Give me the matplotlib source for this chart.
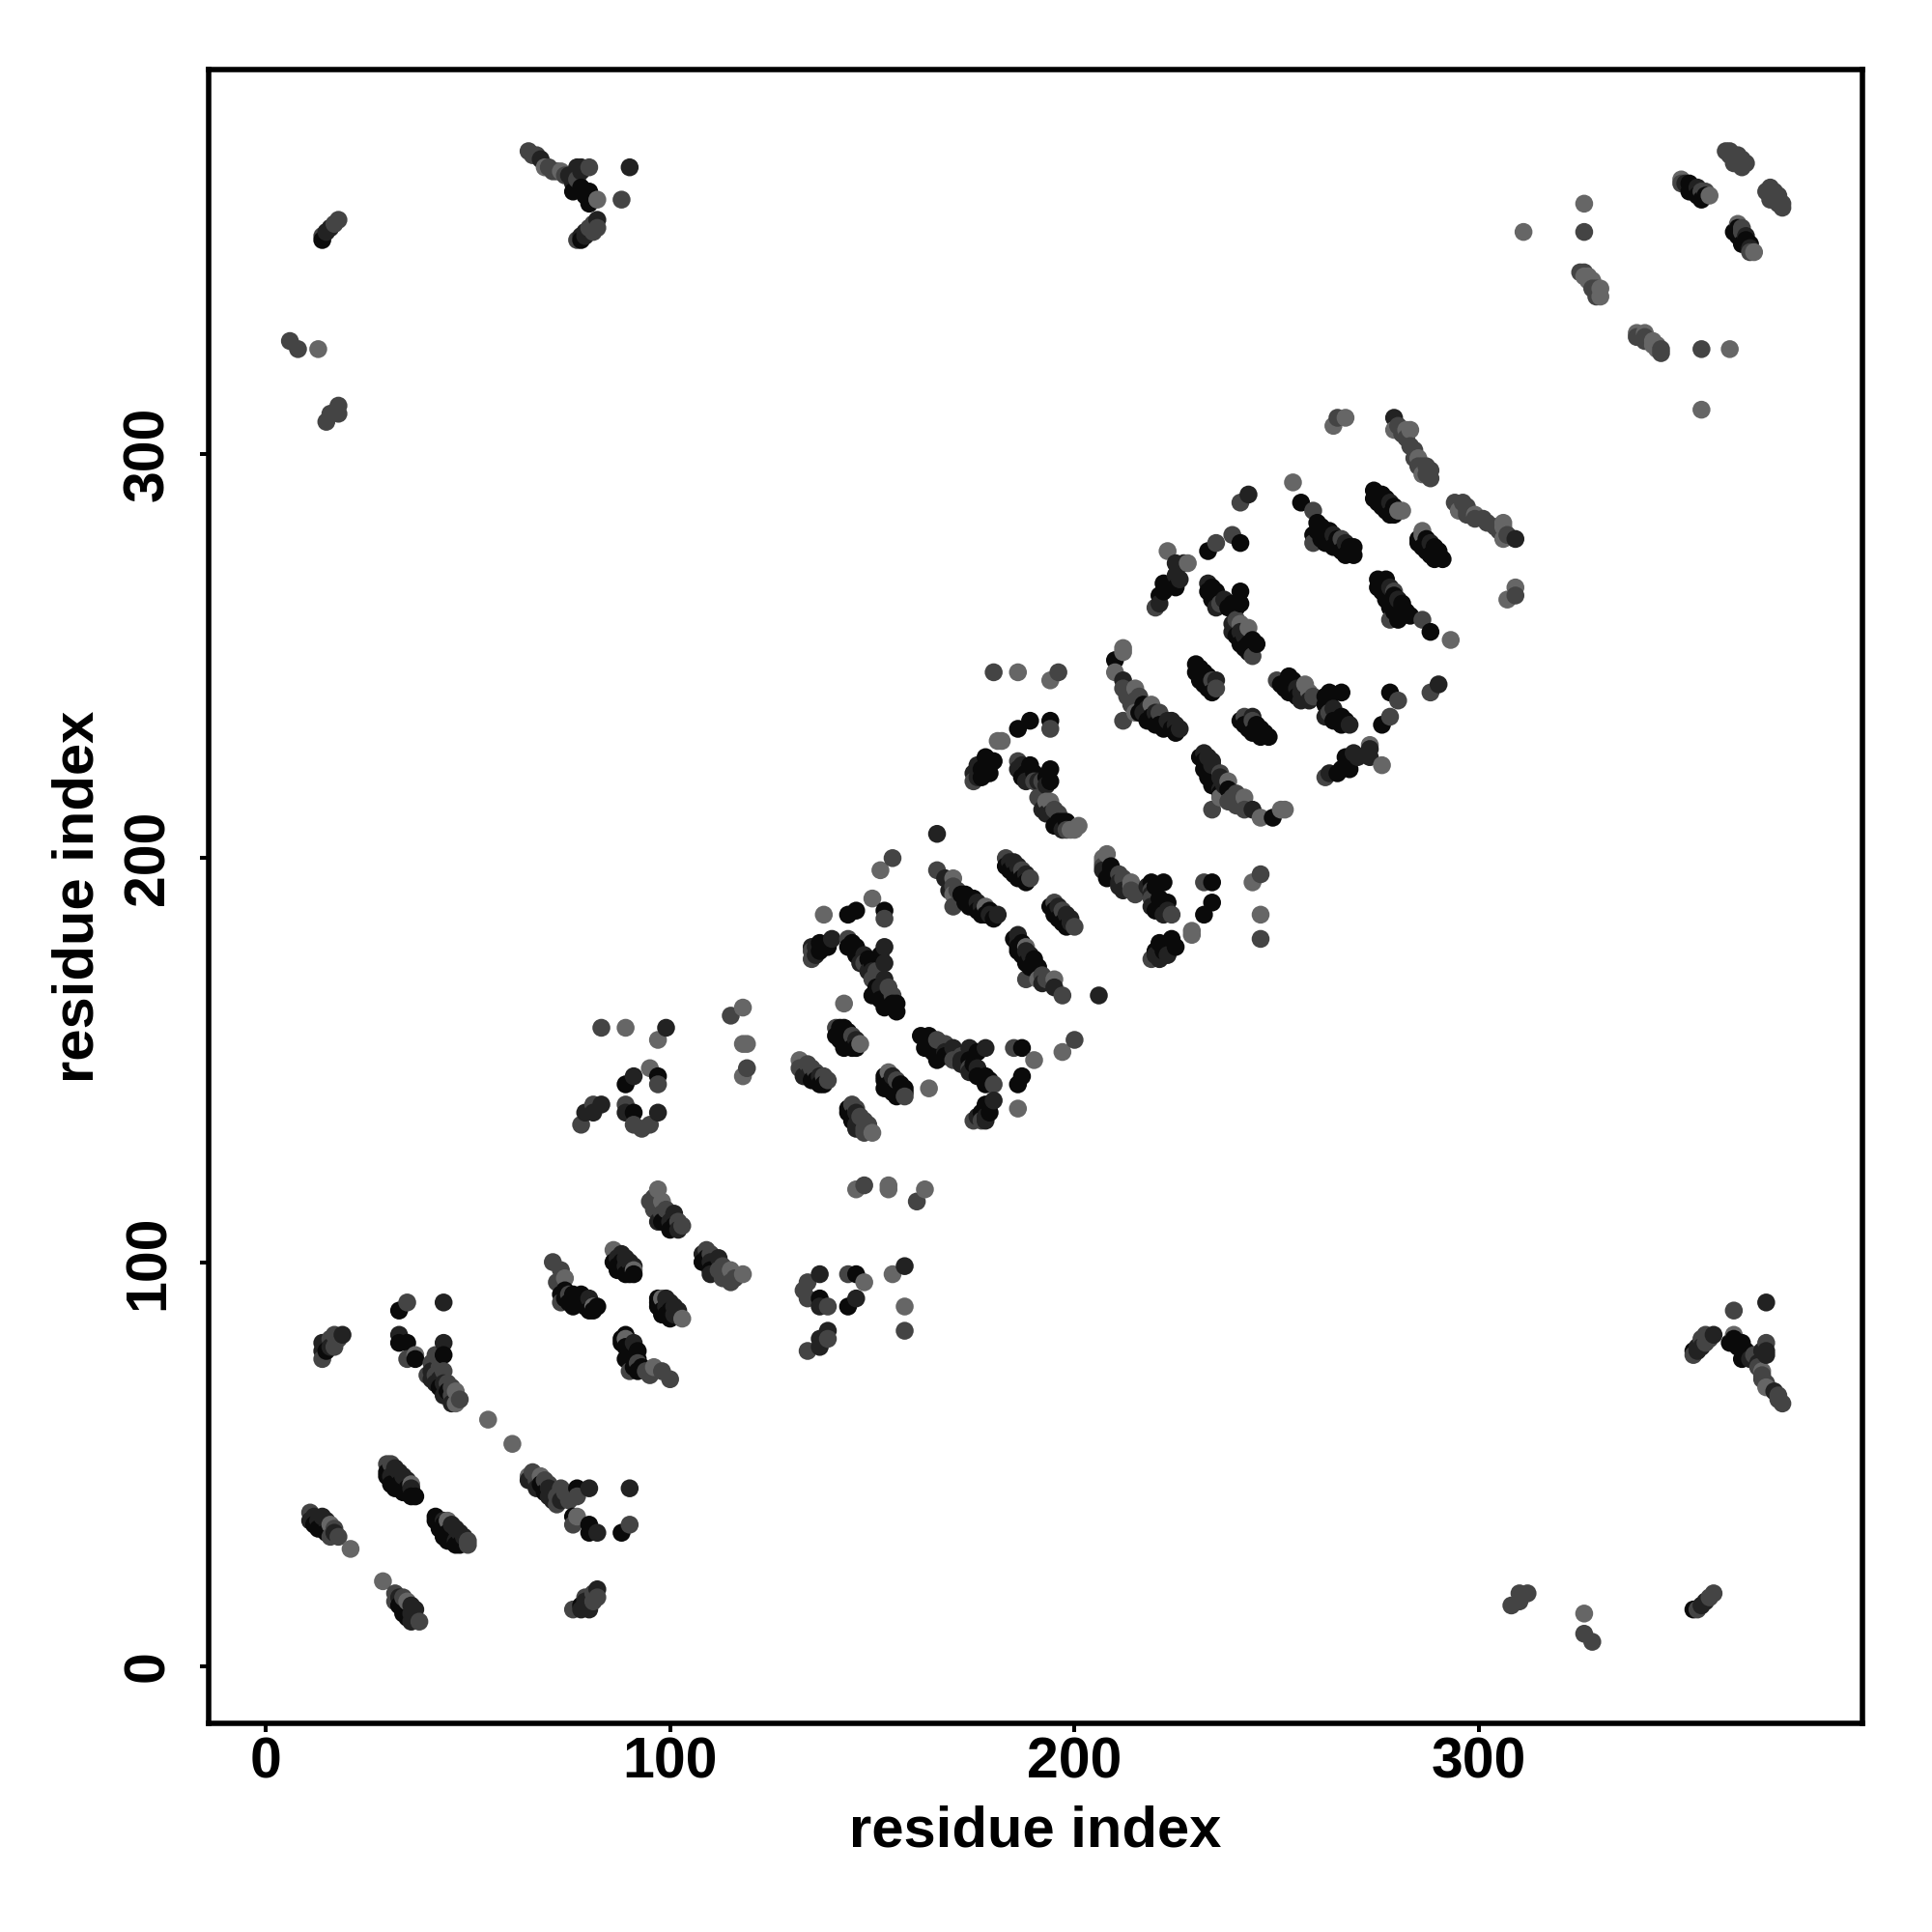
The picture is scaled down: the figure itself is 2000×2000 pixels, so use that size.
import numpy as np
import matplotlib
matplotlib.use("Agg")
import matplotlib.pyplot as plt

plt.rcParams['font.family'] = ['Liberation Sans', 'DejaVu Sans']

########################################################
# Contacts: (residue i, residue j, level)
# level: 0 weakest (light grey) ... 3 strongest (near black)
########################################################

far_n_a = [(14, 354, 1), (14, 353, 3), (15, 355, 2), (16, 356, 2), (17, 357, 1), (18, 358, 1)]
far_n_b = [(6, 328, 1), (8, 326, 1), (13, 326, 0), (15, 308, 1), (16, 310, 1), (18, 310, 1), (18, 312, 1)]
near_n_a = [(11, 38, 1), (11, 36, 2), (12, 37, 2), (12, 35, 3), (13, 36, 2), (13, 34, 3), (14, 37, 2), (15, 36, 2),
            (15, 33, 3), (16, 35, 0), (16, 32, 1), (17, 33, 2), (17, 34, 1), (18, 32, 1), (21, 29, 0)]
near_n_b = [(30, 50, 1), (30, 48, 3), (30, 47, 3), (31, 50, 1), (31, 45, 3), (32, 49, 2), (31, 47, 2), (32, 44, 3),
            (33, 48, 2), (33, 45, 3), (34, 47, 2), (34, 43, 3), (35, 46, 2), (35, 44, 3), (36, 42, 3), (36, 44, 2),
            (36, 45, 0), (37, 42, 3)]
near_n_c = [(14, 76, 1), (14, 78, 2), (14, 80, 2), (15, 78, 3), (15, 80, 2), (16, 79, 2), (16, 81, 1), (17, 79, 1),
            (17, 82, 1), (18, 81, 1), (19, 82, 2)]
near_n_d = [(33, 88, 3), (35, 90, 1), (44, 90, 2), (33, 82, 2), (33, 80, 3), (35, 80, 3), (35, 76, 1), (37, 76, 3),
            (37, 77, 0), (44, 80, 2), (44, 77, 3)]
near_n_e = [(40, 72, 1), (41, 75, 1), (41, 73, 2), (41, 71, 2), (42, 77, 1), (42, 72, 1), (42, 70, 2), (43, 74, 1),
            (43, 71, 2), (43, 69, 3), (44, 73, 1), (44, 70, 2), (44, 67, 2), (45, 70, 1), (45, 68, 3), (46, 69, 1),
            (46, 67, 1), (46, 65, 2), (47, 68, 0), (47, 65, 0), (48, 66, 1), (55, 61, 0)]
strand_a = [(65, 375, 1), (66, 374, 1), (67, 374, 1), (68, 373, 2), (69, 371, 0), (70, 371, 1), (71, 370, 1),
            (72, 370, 1), (73, 370, 0), (74, 369, 1), (75, 369, 2), (76, 367, 2), (77, 371, 2), (77, 368, 1),
            (76, 365, 3), (78, 371, 2), (78, 370, 2), (78, 366, 3), (79, 364, 3), (80, 365, 3), (80, 371, 1),
            (80, 362, 3), (81, 363, 3), (82, 363, 0), (88, 363, 1), (90, 371, 2)]
strand_b = [(77, 353, 1), (78, 353, 3), (78, 354, 2), (79, 354, 2), (79, 355, 2), (80, 356, 1), (81, 357, 1),
            (81, 355, 1), (82, 356, 1), (82, 358, 2)]
strand_c = [(71, 100, 1), (72, 95, 1), (73, 98, 1), (73, 94, 1), (74, 96, 0), (73, 92, 3), (73, 90, 1), (74, 93, 3),
            (74, 91, 3), (75, 92, 1), (75, 90, 3), (76, 92, 3), (76, 89, 3), (77, 90, 3), (78, 92, 3), (78, 90, 3),
            (79, 89, 3), (80, 91, 2), (80, 88, 3), (81, 88, 3), (81, 89, 0), (82, 89, 3)]
strand_d = [(86, 103, 0), (86, 100, 3), (87, 101, 2), (87, 99, 3), (87, 98, 3), (88, 102, 2), (88, 100, 3), (88, 98, 3),
            (89, 101, 2), (89, 99, 2), (89, 97, 3), (90, 100, 2), (90, 97, 3), (91, 99, 2), (91, 97, 3), (91, 98, 0)]
strand_e = [(78, 134, 1), (79, 137, 2), (81, 139, 1), (81, 137, 2), (83, 139, 2), (83, 158, 1), (89, 158, 0),
            (97, 155, 0), (99, 158, 2)]
strand_f = [(89, 144, 3), (91, 146, 2), (95, 148, 0), (97, 144, 1), (97, 146, 3), (89, 139, 1), (89, 137, 2),
            (91, 137, 3), (91, 134, 1), (93, 133, 1), (95, 134, 1), (97, 137, 2)]
strand_g = [(115, 161, 1), (118, 163, 0), (118, 154, 0), (119, 154, 0), (118, 146, 0), (119, 148, 1)]
strand_h = [(97, 118, 0), (95, 115, 1), (96, 116, 1), (96, 113, 1), (97, 113, 1), (98, 115, 0), (98, 112, 1),
            (99, 113, 1), (97, 110, 2), (98, 110, 3), (100, 110, 2), (101, 112, 2), (101, 109, 3), (100, 108, 3),
            (102, 110, 1), (102, 108, 2), (103, 109, 1)]
strand_i = [(132, 150, 0), (132, 148, 1), (133, 148, 1), (133, 146, 2), (134, 149, 1), (134, 146, 2), (135, 148, 1),
            (135, 145, 3), (136, 147, 1), (136, 145, 3), (137, 146, 2), (137, 144, 3), (138, 146, 1), (138, 144, 3),
            (139, 145, 1)]
strand_j = [(135, 175, 1), (135, 177, 1), (135, 178, 2), (136, 176, 2), (136, 178, 2), (137, 179, 3), (137, 177, 3),
            (138, 178, 3), (139, 179, 3), (139, 178, 3), (140, 180, 2), (138, 186, 0)]
strand_k = [(141, 158, 1), (141, 156, 3), (142, 158, 3), (142, 155, 3), (143, 158, 3), (143, 153, 3), (143, 164, 0),
            (144, 157, 3), (144, 154, 3), (145, 156, 1), (145, 153, 3), (146, 155, 2), (146, 153, 3), (147, 154, 0)]
strand_l = [(144, 180, 1), (144, 178, 3), (145, 179, 3), (146, 178, 3), (146, 176, 3), (147, 174, 2), (148, 176, 2),
            (148, 174, 1), (149, 175, 3), (149, 172, 2), (150, 174, 3), (150, 172, 2), (151, 172, 1), (152, 176, 3),
            (153, 178, 2), (153, 174, 2), (150, 170, 1), (150, 166, 3), (151, 168, 3), (152, 168, 2), (152, 165, 3),
            (153, 170, 2), (153, 163, 3), (154, 168, 1), (154, 164, 3), (155, 166, 1), (155, 164, 3), (156, 164, 3),
            (156, 162, 3)]
strand_m = [(144, 186, 3), (146, 187, 3), (150, 190, 0), (153, 187, 3), (153, 185, 1), (152, 197, 0), (155, 200, 1)]
strand_n = [(166, 197, 1), (166, 206, 2), (168, 195, 2), (169, 192, 2), (170, 195, 0), (170, 193, 1), (170, 191, 0),
            (170, 188, 1), (171, 192, 1), (172, 191, 3), (173, 191, 3), (173, 189, 3), (174, 190, 3), (174, 188, 3),
            (175, 190, 3), (176, 189, 2), (176, 187, 3), (177, 188, 2), (177, 186, 3), (178, 188, 0), (178, 186, 3),
            (179, 187, 3), (179, 186, 2), (180, 185, 3), (181, 186, 2)]
strand_o = [(183, 200, 1), (183, 198, 3), (184, 199, 2), (184, 197, 3), (185, 199, 2), (185, 196, 3), (186, 198, 2),
            (186, 195, 3), (187, 197, 1), (187, 195, 3), (188, 196, 2), (188, 194, 3), (189, 195, 1)]
strand_p = [(175, 219, 1), (175, 221, 2), (176, 223, 2), (176, 220, 2), (177, 222, 3), (177, 220, 3), (178, 225, 3),
            (178, 222, 3), (179, 223, 3), (179, 221, 3), (180, 224, 3), (181, 229, 0), (182, 229, 0)]
strand_q = [(180, 246, 1), (186, 246, 0), (194, 244, 0), (196, 246, 1), (186, 232, 3), (189, 234, 3), (194, 234, 3),
            (194, 232, 1)]
strand_r = [(186, 224, 1), (186, 222, 2), (187, 223, 2), (187, 220, 3), (188, 221, 3), (188, 219, 2), (189, 223, 3),
            (190, 221, 3), (190, 219, 1), (191, 219, 2), (191, 215, 1), (192, 219, 1), (192, 214, 1), (192, 212, 2),
            (193, 220, 3), (193, 218, 2), (193, 214, 0), (193, 211, 2), (194, 222, 3), (194, 219, 3), (194, 214, 0),
            (194, 211, 2), (195, 212, 1), (195, 208, 3), (196, 211, 1), (196, 209, 3), (197, 209, 3), (197, 207, 2),
            (198, 209, 3), (198, 207, 1), (199, 207, 0), (200, 207, 0), (201, 208, 0)]
strand_s = [(212, 252, 0), (212, 251, 0), (210, 249, 3), (210, 246, 0), (212, 244, 2), (212, 242, 1), (213, 240, 1),
            (214, 238, 1), (215, 242, 0), (215, 239, 1), (212, 234, 1), (216, 240, 1), (216, 236, 3), (217, 238, 3),
            (217, 236, 2), (215, 236, 0), (218, 237, 2), (218, 234, 3), (219, 235, 3), (219, 238, 0), (220, 236, 2),
            (220, 233, 3), (221, 236, 1), (221, 233, 3), (222, 232, 3), (223, 234, 2), (224, 234, 2), (224, 232, 3),
            (225, 233, 2), (225, 231, 3), (226, 232, 2)]
strand_t = [(221, 265, 3), (221, 263, 2), (220, 262, 1), (222, 268, 3), (222, 266, 3), (223, 267, 3), (223, 276, 0),
            (224, 268, 3), (225, 273, 2), (225, 270, 2), (225, 267, 3), (226, 269, 2), (227, 273, 2), (228, 273, 0)]
strand_u = [(230, 248, 3), (230, 246, 3), (231, 247, 3), (231, 244, 3), (232, 246, 3), (232, 243, 3), (233, 245, 3),
            (233, 242, 3), (234, 241, 3), (234, 244, 1), (235, 244, 2), (235, 242, 1)]
strand_v = [(233, 268, 2), (233, 266, 3), (234, 267, 3), (234, 264, 3), (235, 266, 3), (235, 262, 2), (236, 263, 1),
            (237, 264, 2), (238, 262, 3), (239, 263, 3), (239, 258, 2), (239, 256, 2), (240, 262, 3), (240, 259, 1),
            (240, 255, 3), (241, 258, 0), (241, 266, 3), (241, 263, 3), (241, 256, 2), (241, 253, 3), (242, 255, 2),
            (242, 252, 3), (243, 257, 0), (243, 253, 3), (243, 251, 3), (244, 254, 3), (244, 250, 1), (245, 253, 3)]
strand_w = [(233, 276, 3), (235, 278, 1), (239, 280, 1), (241, 278, 3), (241, 288, 1), (243, 290, 2)]
strand_x = [(254, 293, 0), (256, 288, 3), (259, 286, 1), (259, 280, 3), (259, 278, 1), (260, 283, 3), (260, 281, 3),
            (261, 282, 3), (261, 279, 3), (262, 281, 3), (262, 278, 3), (263, 281, 3), (263, 278, 3), (264, 280, 2),
            (264, 277, 3), (265, 279, 3), (265, 277, 3), (266, 279, 1), (266, 276, 3), (267, 278, 2), (267, 275, 3),
            (268, 277, 3), (268, 276, 3), (269, 277, 3), (269, 275, 3)]
strand_y = [(264, 307, 0), (265, 309, 1), (267, 309, 0), (279, 309, 2), (279, 306, 0), (280, 307, 1), (281, 305, 1),
            (282, 306, 0), (282, 304, 1), (283, 306, 0), (283, 302, 1), (284, 301, 1), (284, 299, 1), (285, 299, 0),
            (285, 297, 1), (286, 297, 1), (286, 295, 0), (287, 297, 1), (287, 295, 1), (288, 296, 1), (288, 294, 1)]
strand_z = [(274, 291, 3), (274, 289, 3), (275, 290, 3), (275, 288, 3), (276, 290, 3), (276, 287, 3), (277, 289, 3),
            (277, 286, 3), (278, 288, 2), (278, 285, 3), (279, 287, 3), (279, 285, 3), (280, 286, 0), (281, 286, 0)]
far_c_a = [(311, 355, 0), (326, 362, 0), (326, 355, 1), (325, 345, 1), (326, 345, 1), (326, 344, 0), (327, 344, 0),
           (327, 343, 0), (328, 343, 0), (328, 341, 1), (329, 341, 1), (329, 339, 1), (330, 341, 0), (330, 339, 0)]
far_c_b = [(350, 368, 0), (350, 367, 1), (351, 367, 2), (352, 367, 3), (352, 365, 3), (353, 366, 3), (354, 366, 2),
           (354, 364, 3), (355, 365, 1), (355, 363, 3), (356, 365, 1), (356, 364, 3), (357, 364, 0), (361, 375, 1),
           (362, 375, 1), (362, 374, 1), (363, 373, 1), (363, 372, 1), (364, 374, 1), (364, 372, 1), (365, 373, 1),
           (365, 372, 1), (365, 371, 1), (366, 372, 1)]

contact_groups = [far_n_a, far_n_b, near_n_a, near_n_b, near_n_c, near_n_d, near_n_e, strand_a, strand_b, strand_c,
                  strand_d, strand_e, strand_f, strand_g, strand_h, strand_i, strand_j, strand_k, strand_l, strand_m,
                  strand_n, strand_o, strand_p, strand_q, strand_r, strand_s, strand_t, strand_u, strand_v, strand_w,
                  strand_x, strand_y, strand_z, far_c_a, far_c_b]

level_greys = ['#666666', '#444444', '#222222', '#0a0a0a']
tick_values = [0, 100, 200, 300]

########################################################
# Plot
########################################################

contacts = np.array([row for group in contact_groups for row in group])
residue_i, residue_j, level = contacts.T

# a contact map is symmetric, every pair shows up on both sides of the diagonal
x = np.concatenate([residue_i, residue_j])
y = np.concatenate([residue_j, residue_i])
levels = np.concatenate([level, level])

order = np.lexsort((-y, x))
colors = [level_greys[k] for k in levels[order]]

fig = plt.figure(figsize=(20, 20), dpi=100)
ax = fig.add_axes([216 / 2000, 1 - 1784 / 2000, (1928 - 216) / 2000, (1784 - 72) / 2000])

ax.scatter(x[order], y[order], s=178, c=colors, linewidths=0, zorder=3)

ax.set_xlim(-14.09, 394.8)
ax.set_ylim(-14.18, 395.2)
ax.set_xticks(tick_values)
ax.set_yticks(tick_values)

for spine in ax.spines.values():
    spine.set_linewidth(4.0)

ax.tick_params(axis='both', length=6.5, width=2.9, labelsize=42.5)
ax.tick_params(axis='x', pad=3)
ax.tick_params(axis='y', pad=18.5)

for label in ax.get_xticklabels():
    label.set_fontweight('bold')
for label in ax.get_yticklabels():
    label.set_fontweight('bold')
    label.set_rotation(90)
    label.set_verticalalignment('center')

ax.set_xlabel('residue index', fontsize=43, fontweight='bold', labelpad=12)
ax.set_ylabel('residue index', fontsize=43, fontweight='bold', labelpad=13)

fig.savefig('out.png', dpi=100, facecolor='white')
